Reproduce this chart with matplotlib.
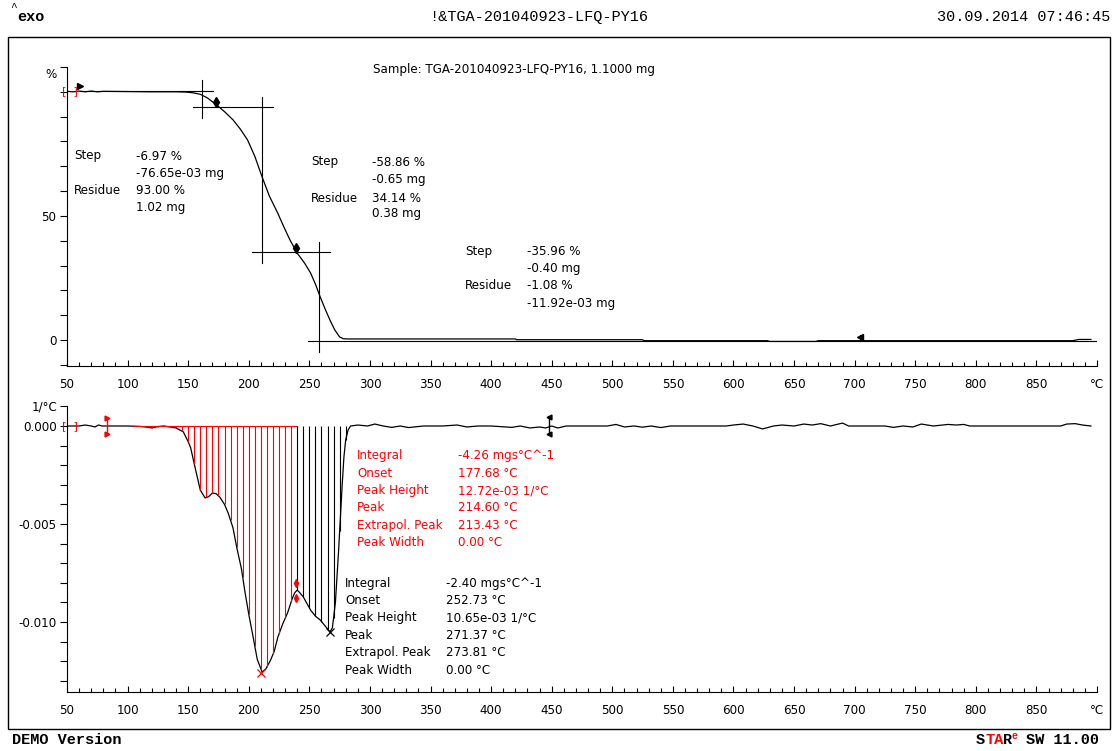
import numpy as np
import matplotlib.pyplot as plt
from matplotlib.patches import Rectangle

W, H = 1118, 751
RED = "#ff0000"

# TGA curve, weight in %
tga_temp = [50, 55, 60, 65, 70, 75, 80, 100, 120, 140, 148, 154, 160, 166, 174, 180, 187, 193,
            199, 205, 211, 217, 224, 229, 234, 240, 246, 251, 255, 259, 263, 267, 271, 275, 278,
            282, 420, 421, 525, 526, 628, 630, 668, 670, 880, 885, 895]
tga_mass = [100.2, 100.0, 100.3, 100.0, 100.3, 100.0, 100.2, 100.1, 100.0, 100.0, 99.9, 99.6,
            99.0, 97.5, 94.5, 92.0, 88.7, 85.0, 80.6, 74.0, 65.7, 58.0, 51.0, 45.5, 40.3, 35.0,
            31.0, 27.0, 22.5, 17.3, 12.5, 8.0, 4.0, 1.2, 0.5, 0.4, 0.4, 0.1, 0.1, -0.3, -0.3,
            -0.6, -0.6, -0.3, -0.3, 0.2, 0.2]

# DTG curve, 1e-3 1/°C
dtg_temp = [50, 55, 60, 65, 70, 73, 76, 79, 82, 90, 100, 110, 115, 120, 125, 130, 135, 140, 146,
            150, 152, 156, 160, 164, 167, 170, 173, 176, 180, 183, 187, 190, 194, 197, 200, 204,
            207, 211, 214, 218, 221, 224, 228, 232, 236, 238, 240, 242, 245, 251, 255, 259, 263,
            267, 269, 271.5, 273, 274, 275.5, 277, 278.5, 280, 282, 284, 290, 298, 304, 311, 318,
            325, 332, 344, 360, 372, 380, 389, 400, 417, 424, 432, 440, 445, 450, 455, 462, 480,
            496, 503, 510, 518, 525, 532, 540, 548, 556, 594, 600, 608, 616, 624, 633, 640, 650,
            658, 665, 672, 680, 690, 695, 725, 732, 740, 748, 755, 765, 777, 784, 790, 795, 870,
            875, 882, 888, 895]
dtg_val = [0, 0, 0, 0.05, 0, -0.05, 0.05, 0, 0, 0, 0, -0.02, -0.05, -0.1, -0.03, 0, -0.05,
           -0.1, -0.3, -0.8, -1.1, -2.2, -3.27, -3.67, -3.6, -3.42, -3.45, -3.62, -4.0, -4.44,
           -5.2, -6.17, -7.3, -8.52, -9.6, -10.9, -11.9, -12.55, -12.4, -11.94, -11.5, -10.77,
           -10.1, -9.54, -8.78, -8.5, -8.37, -8.5, -8.72, -9.39, -9.7, -9.9, -10.2, -10.5,
           -10.3, -9.0, -7.5, -6.5, -4.8, -3.1, -1.6, -0.7, -0.2, 0, 0.05, 0, 0.1, 0, -0.07, 0,
           -0.08, 0, 0, 0.05, -0.05, 0, 0, -0.07, 0, -0.1, -0.05, -0.1, 0, -0.1, 0, 0, 0, 0.08,
           -0.05, 0, -0.06, 0, -0.08, 0, 0, 0, 0.05, 0.1, 0, -0.15, 0, 0.05, 0, 0.1, 0.05, 0.12,
           0, 0.15, 0, 0, -0.07, 0, -0.05, 0.1, 0, 0.08, 0.05, 0.08, 0, 0, 0.1, 0.12, 0.05, 0]

# tangent construction lines in the TGA panel: (T1, T2, y1, y2)
tangents = [(60.7, 170.5, 100.3, 100.3), (161.4, 161.4, 104.8, 89.5), (154, 220, 94, 94),
            (211, 211, 98, 31), (202.7, 267, 35.5, 35.5), (258, 258, 39.5, -4.8),
            (249, 900, -0.4, -0.4)]

peak_temp = [210.5, 267]
peak_val = [-12.6, -10.5]

step_rows = [
    (74, 136, [156, 173, 190, 207], ["Step", "", "Residue", ""],
     ["-6.97 %", "-76.65e-03 mg", "93.00 %", "1.02 mg"]),
    (311, 372, [162, 180, 198, 214], ["Step", "", "Residue", ""],
     ["-58.86 %", "-0.65 mg", "34.14 %", "0.38 mg"]),
    (465, 527, [252, 269, 286, 303], ["Step", "", "Residue", ""],
     ["-35.96 %", "-0.40 mg", "-1.08 %", "-11.92e-03 mg"]),
]
peak_labels = ["Integral", "Onset", "Peak Height", "Peak", "Extrapol. Peak", "Peak Width"]
peak1_vals = ["-4.26 mgs°C^-1", "177.68 °C", "12.72e-03 1/°C", "214.60 °C", "213.43 °C", "0.00 °C"]
peak2_vals = ["-2.40 mgs°C^-1", "252.73 °C", "10.65e-03 1/°C", "271.37 °C", "273.81 °C", "0.00 °C"]

plt.rcParams['font.family'] = 'DejaVu Sans'
FS = 8.6
LW = 0.8

fig = plt.figure(figsize=(W / 100, H / 100), dpi=100)


def ftext(x, y, s, **kw):
    kw.setdefault("fontsize", FS)
    kw.setdefault("va", "center")
    fig.text(x / W, 1 - y / H, s, **kw)


def make_axes(top, bottom):
    ax = fig.add_axes([67 / W, 1 - bottom / H, 1030 / W, (bottom - top) / H])
    ax.patch.set_alpha(0)
    for s in ["top", "right"]:
        ax.spines[s].set_visible(False)
    for s in ["left", "bottom"]:
        ax.spines[s].set_linewidth(LW)
    ax.set_xlim(50, 900)
    ax.set_xticks(np.arange(50, 901, 50))
    ax.set_xticks(np.arange(50, 901, 10), minor=True)
    ax.set_xticklabels([str(t) for t in range(50, 900, 50)] + ["°C"])
    ax.tick_params(axis="x", which="major", direction="in", length=4.5, width=LW, pad=9,
                   labelsize=FS)
    ax.tick_params(axis="x", which="minor", direction="in", length=3, width=LW)
    ax.tick_params(axis="y", direction="out", length=5, width=LW, pad=2.5, labelsize=FS)
    return ax


# outer frame
fig.add_artist(Rectangle((8 / W, 1 - 729 / H), 1102 / W, 692 / H, transform=fig.transFigure,
                         fill=False, lw=1.0, ec="black"))

# ---- TGA panel
ax1 = make_axes(67, 366)
ax1.set_ylim(-10.5, 110)
ax1.set_yticks(np.arange(-10, 111, 10))
ax1.set_yticklabels(["" if v not in (0, 50) else str(v) for v in range(-10, 111, 10)])
ax1.plot(tga_temp, tga_mass, color="black", lw=0.9)
for t1, t2, y1, y2 in tangents:
    ax1.plot([t1, t2], [y1, y2], color="black", lw=LW)
ax1.plot([60.7], [102.4], marker=">", color="black", ms=4)
ax1.plot([173, 239], [96, 37], marker="d", ls="none", color="black", ms=5)
ax1.plot([704.5], [1.2], marker="<", color="black", ms=4)
ax1.plot([704.5, 704.5], [-0.5, 2], color="black", lw=LW)
ax1.text(52.5, 100.2, "[  ]", color=RED, ha="center", va="center", fontsize=8, clip_on=False)
ftext(57, 75, "%", ha="right")

ftext(373, 70, "Sample: TGA-201040923-LFQ-PY16, 1.1000 mg")
for lx, vx, ys, labels, vals in step_rows:
    for y, lab, val in zip(ys, labels, vals):
        if lab:
            ftext(lx, y, lab)
        ftext(vx, y, val)

# ---- DTG panel
ax2 = make_axes(406.4, 692)
ax2.set_ylim(-0.01357, 0.001)
yt = np.arange(-13, 2) / 1000
ax2.set_yticks(yt)
ax2.set_yticklabels(["%.3f" % v if round(v * 1000) in (0, -5, -10) else "" for v in yt])
dtg = np.array(dtg_val) / 1000
ax2.plot(dtg_temp, dtg, color="black", lw=0.9)

red_t = np.arange(105, 240, 5)
blk_t = np.arange(240, 283, 5)
ax2.vlines(red_t, np.interp(red_t, dtg_temp, dtg), 0, color=RED, lw=LW)
ax2.vlines(blk_t, np.interp(blk_t, dtg_temp, dtg), 0, color="black", lw=LW)
ax2.plot([105, 240], [0, 0], color=RED, lw=LW)
ax2.plot(peak_temp[:1], np.array(peak_val[:1]) / 1000, marker="x", color=RED, ms=6, mew=0.9)
ax2.plot(peak_temp[1:], np.array(peak_val[1:]) / 1000, marker="x", color="black", ms=6, mew=0.9)
ax2.plot([239, 239], [-0.0080, -0.00875], marker="d", ls="none", color=RED, ms=4)

ax2.plot([83, 83], [0.0004, -0.0004], color=RED, lw=1.0)
ax2.plot([83, 83], [0.0004, -0.0004], marker=">", ls="none", color=RED, ms=3.5)
ax2.plot([448, 448], [0.00045, -0.0004], color="black", lw=1.0)
ax2.plot([448, 448], [0.00045, -0.0004], marker="<", ls="none", color="black", ms=3.5)
ax2.text(52.5, 0, "[  ]", color=RED, ha="center", va="center", fontsize=8, clip_on=False)
ftext(57, 407, "1/°C", ha="right")

for i, (lab, val) in enumerate(zip(peak_labels, peak1_vals)):
    y = 456 + i * 17.3
    ftext(357, y, lab, color=RED)
    ftext(458, y, val, color=RED)
for i, (lab, val) in enumerate(zip(peak_labels, peak2_vals)):
    y = 583 + i * 17.4
    ftext(345, y, lab)
    ftext(446, y, val)

# ---- header / footer
MONO = "Liberation Mono"
ftext(10, 7, "^", family=MONO, fontsize=8)
ftext(17, 17, "exo", family=MONO, fontsize=11, weight="bold")
ftext(539, 17, "!&TGA-201040923-LFQ-PY16", family=MONO, fontsize=11, ha="center")
ftext(1110, 17, "30.09.2014 07:46:45", family=MONO, fontsize=11, ha="right")
ftext(12, 740, "DEMO Version", family=MONO, fontsize=11, weight="bold")
ftext(976, 740, "S", family=MONO, fontsize=11, weight="bold")
ftext(985, 740, "TA", family=MONO, fontsize=11, weight="bold", color=RED)
ftext(1003, 740, "R", family=MONO, fontsize=11, weight="bold")
ftext(1011, 736, "e", family=MONO, fontsize=7, weight="bold", color=RED)
ftext(1026, 740, "SW 11.00", family=MONO, fontsize=11, weight="bold")

fig.savefig("out.png", dpi=100)
